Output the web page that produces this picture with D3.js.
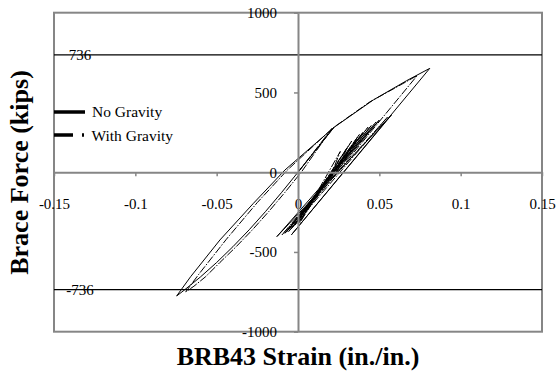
<!DOCTYPE html>
<html>
<head>
<meta charset="utf-8">
<script src="https://cdn.jsdelivr.net/npm/d3@7"></script>
<style>
  html, body { margin: 0; padding: 0; background: #fff; }
  svg { display: block; }
  text { font-family: "Liberation Serif", "Times New Roman", serif; }
</style>
</head>
<body>
<svg id="chart" width="556" height="375"></svg>
<script>
// ---- data ----
const xTicks = [-0.15, -0.1, -0.05, 0, 0.05, 0.1, 0.15];
const xTickLabels = ["-0.15", "-0.1", "-0.05", "0", "0.05", "0.1", "0.15"];
const yTicks = [-1000, -500, 0, 500, 1000];
const yTickLabels = ["-1000", "-500", "0", "500", "1000"];
const limitForces = [736, -736];
const limitLabels = ["736", "-736"];
const seriesNames = ["No Gravity", "With Gravity"];

const noGravityStrain = [0, 0.022, 0.0, -0.01, -0.02, -0.03, -0.04, -0.05, -0.06, -0.07, -0.0746, -0.066, -0.048, -0.0274, -0.008, 0.022, 0.0463, 0.0668, 0.081, -0.004, 0.0574, -0.013, 0.050, -0.008, 0.045, -0.006, 0.040, -0.003, 0.036, 0.0, 0.030, 0.024];
const noGravityForce  = [0, 280, 0, -126, -247, -361, -467, -566, -657, -740, -776, -655, -425, -195, 14, 280, 453, 574, 651, -392, 358, -404, 327, -383, 292, -362, 250, -340, 205, -320, 150, 0];

const withGravityStrain = [0, 0.021, 0.002, -0.008, -0.018, -0.028, -0.038, -0.048, -0.057, -0.064, -0.069, -0.061, -0.044, -0.025, -0.0065, 0.0215, 0.044, 0.060, 0.0733, -0.006, 0.055, -0.010, 0.048, -0.007, 0.043, -0.004, 0.038, -0.002, 0.033, 0.001, 0.026, 0.021];
const withGravityForce  = [0, 275, 0, -126, -247, -361, -467, -566, -657, -715, -750, -640, -420, -190, 14, 278, 440, 530, 606, -375, 345, -395, 315, -375, 282, -352, 240, -335, 195, -318, 130, 0];

// ---- layout ----
const svg = d3.select("#chart");
const x = d3.scaleLinear().domain([-0.15, 0.15]).range([54, 542]);
const y = d3.scaleLinear().domain([-1000, 1000]).range([331.7, 12.7]);
const gray = "#868686";

// plot box
svg.append("rect")
  .attr("x", x(-0.15)).attr("y", y(1000))
  .attr("width", x(0.15) - x(-0.15)).attr("height", y(-1000) - y(1000))
  .attr("fill", "none").attr("stroke", gray).attr("stroke-width", 2);

// limit lines
svg.selectAll("line.limit").data(limitForces).enter().append("line")
  .attr("class", "limit")
  .attr("x1", x(-0.15)).attr("x2", x(0.15))
  .attr("y1", d => y(d)).attr("y2", d => y(d))
  .attr("stroke", "#000").attr("stroke-width", 1.2);

// axes
const xAxis = d3.axisBottom(x).tickValues(xTicks)
  .tickFormat((d, i) => xTickLabels[i]).tickSize(4).tickSizeOuter(0).tickPadding(22);
const yAxis = d3.axisLeft(y).tickValues(yTicks)
  .tickFormat((d, i) => yTickLabels[i]).tickSize(4).tickSizeOuter(0).tickPadding(17);

const gx = svg.append("g").attr("transform", `translate(0,${y(0)})`).call(xAxis);
const gy = svg.append("g").attr("transform", `translate(${x(0)},0)`).call(yAxis);
[gx, gy].forEach(g => {
  g.attr("font-family", null);
  g.select(".domain").attr("stroke", gray).attr("stroke-width", 2);
  g.selectAll(".tick line").attr("stroke", gray).attr("stroke-width", 1.5);
  g.selectAll(".tick text").attr("fill", "#000").style("font-size", "15px")
    .style("font-family", '"Liberation Serif", serif');
});

// series
const line = d3.line().x(d => x(d[0])).y(d => y(d[1]));
const ngData = d3.zip(noGravityStrain, noGravityForce);
const wgData = d3.zip(withGravityStrain, withGravityForce);

svg.append("path").datum(wgData).attr("d", line)
  .attr("fill", "none").attr("stroke", "#000").attr("stroke-width", 1)
  .attr("stroke-dasharray", "8,1.5,1.5,1.5").attr("stroke-linejoin", "miter");
svg.append("path").datum(ngData).attr("d", line)
  .attr("fill", "none").attr("stroke", "#000").attr("stroke-width", 1)
  .attr("stroke-linejoin", "miter");

// bring tick labels to front
gx.raise(); gy.raise();
gx.select(".domain").lower(); gy.select(".domain").lower();

// limit labels
svg.selectAll("text.limitLabel").data(limitForces).enter().append("text")
  .attr("class", "limitLabel")
  .attr("x", 80).attr("y", d => y(d)).attr("dy", "0.35em")
  .attr("text-anchor", "middle").style("font-size", "15px")
  .text((d, i) => limitLabels[i]);

// legend
const legend = svg.append("g");
legend.append("line").attr("x1", 54).attr("x2", 85).attr("y1", 112).attr("y2", 112)
  .attr("stroke", "#000").attr("stroke-width", 3.5);
legend.append("line").attr("x1", 54).attr("x2", 86).attr("y1", 135).attr("y2", 135)
  .attr("stroke", "#000").attr("stroke-width", 3.5).attr("stroke-dasharray", "19,9,2,20");
legend.append("text").attr("x", 92).attr("y", 117).style("font-size", "15.5px").text(seriesNames[0]);
legend.append("text").attr("x", 91.5).attr("y", 140.5).style("font-size", "15.5px").text(seriesNames[1]);

// axis titles
svg.append("text").attr("x", 298).attr("y", 365).attr("text-anchor", "middle")
  .style("font-size", "26px").style("font-weight", "bold").text("BRB43 Strain (in./in.)");
svg.append("text").attr("transform", "translate(28,172.5) rotate(-90)").attr("text-anchor", "middle")
  .style("font-size", "26px").style("font-weight", "bold").text("Brace Force (kips)");
</script>
</body>
</html>
